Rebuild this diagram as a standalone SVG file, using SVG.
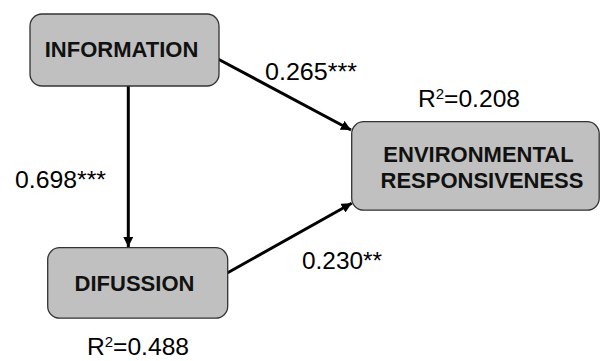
<svg xmlns="http://www.w3.org/2000/svg" width="600" height="361" viewBox="0 0 600 361">
<defs>
<marker id="ah" viewBox="0 0 10 10" refX="10" refY="5" markerWidth="10" markerHeight="10" markerUnits="userSpaceOnUse" orient="auto">
<path d="M0,0 L10,5 L0,10 Z" fill="#000"/>
</marker>
<style>
.box{fill:#c0c0c0;stroke:#333;stroke-width:1.3}
.nt{font-family:"Liberation Sans",Arial,sans-serif;font-weight:bold;font-size:22px;fill:#111;text-anchor:middle}
.lb{font-family:"Liberation Sans",Arial,sans-serif;font-size:23px;fill:#000}
.sup{font-size:14px}
.edge{stroke:#000;stroke-width:3;fill:none;marker-end:url(#ah)}
</style>
</defs>
<rect width="600" height="361" fill="#fff"/>
<g id="connectors">
<line class="edge" x1="128.3" y1="86" x2="128.3" y2="247"/>
<line class="edge" x1="217" y1="58.5" x2="351" y2="130"/>
<line class="edge" x1="227.7" y1="272.7" x2="351.7" y2="203.3"/>
</g>
<g id="information">
<rect class="box" x="30" y="14" width="189" height="72" rx="12"/>
<text class="nt" x="121.5" y="56.7">INFORMATION</text>
</g>
<g id="difussion">
<rect class="box" x="47.7" y="247.7" width="180" height="70.5" rx="12"/>
<text class="nt" x="134.5" y="290.7">DIFUSSION</text>
</g>
<g id="environmental">
<rect class="box" x="351.7" y="121.7" width="247.5" height="88.5" rx="12"/>
<text class="nt" x="478.5" y="161.7">ENVIRONMENTAL</text>
<text class="nt" x="482" y="188.3">RESPONSIVENESS</text>
</g>
<g id="labels">
<text class="lb" x="265" y="80" textLength="92" lengthAdjust="spacingAndGlyphs">0.265***</text>
<text class="lb" x="15" y="188" textLength="91" lengthAdjust="spacingAndGlyphs">0.698***</text>
<text class="lb" x="302" y="269" textLength="80" lengthAdjust="spacingAndGlyphs">0.230**</text>
<text class="lb" x="418" y="107" textLength="102" lengthAdjust="spacingAndGlyphs">R<tspan class="sup" dy="-8">2</tspan><tspan dy="8">=0.208</tspan></text>
<text class="lb" x="87" y="355" textLength="102" lengthAdjust="spacingAndGlyphs">R<tspan class="sup" dy="-8">2</tspan><tspan dy="8">=0.488</tspan></text>
</g>
</svg>
